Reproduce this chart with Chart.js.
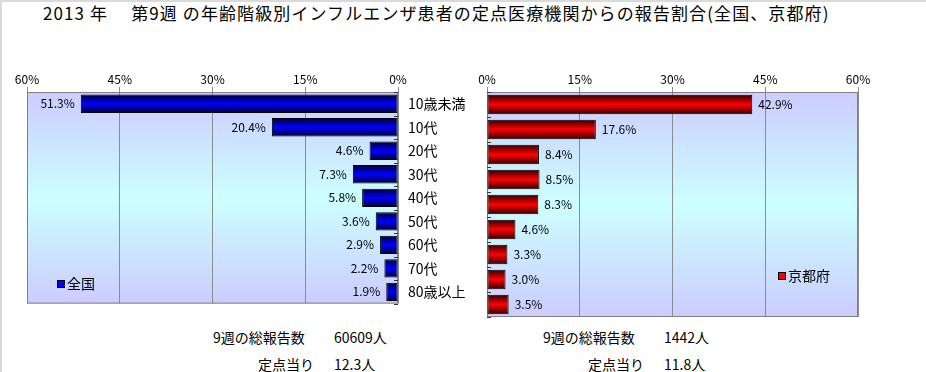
<!DOCTYPE html>
<html lang="ja">
<head>
<meta charset="utf-8">
<title>年齢階級別インフルエンザ患者の報告割合</title>
<script src="https://cdn.jsdelivr.net/npm/chart.js@4.4.0/dist/chart.umd.min.js"></script>
<style>
  html, body { margin: 0; padding: 0; background: #fff; }
  #wrap {
    position: relative; width: 926px; height: 372px; overflow: hidden;
    box-shadow: inset 2px 2px 0 #dadada;
    font-family: "Noto Sans CJK JP", sans-serif; color: #000;
  }
  #wrap canvas { position: absolute; }
  .txt { position: absolute; white-space: pre; line-height: 20px; }
  #title { left: 43px; top: 3px; font-size: 17px; letter-spacing: 1.1px; }
  .legend { font-size: 14px; }
  .key { display: inline-block; width: 6px; height: 6px; border: 1px solid #000; margin-right: 2px; vertical-align: 1px; }
  .stat { font-size: 14px; }
</style>
</head>
<body>
<div id="wrap">
  <div id="title" class="txt"></div>
  <canvas id="leftChart" width="480" height="262" style="left:0; top:60px"></canvas>
  <canvas id="rightChart" width="448" height="262" style="left:478px; top:60px"></canvas>
</div>
<script>
const year = 2013;
const week = 9;
const ageLabels = ['10歳未満', '10代', '20代', '30代', '40代', '50代', '60代', '70代', '80歳以上'];
const seriesNames = ['全国', '京都府'];
const nationalPct = [51.3, 20.4, 4.6, 7.3, 5.8, 3.6, 2.9, 2.2, 1.9];
const kyotoPct = [42.9, 17.6, 8.4, 8.5, 8.3, 4.6, 3.3, 3.0, 3.5];
const xTickValues = [0, 15, 30, 45, 60];
const totalReports = [60609, 1442];
const perSite = [12.3, 11.8];

const FONT = '"Noto Sans CJK JP", sans-serif';
const BAR_PCT = 0.78;
const wrap = document.getElementById('wrap');

document.getElementById('title').textContent =
  `${year} 年\u3000 第${week}週 の年齢階級別インフルエンザ患者の定点医療機関からの報告割合(${seriesNames[0]}、${seriesNames[1]})`;

// 棒のグラデーション（上下が暗く中央が明るい）
function barFill(dark, bright) {
  return (c) => {
    const y = c.chart.scales.y;
    if (!y || c.type !== 'data') return bright;
    const mid = y.getPixelForValue(c.dataIndex);
    const half = y.height / ageLabels.length * BAR_PCT / 2;
    if (!isFinite(mid) || !isFinite(half) || half <= 0) return bright;
    const g = c.chart.ctx.createLinearGradient(0, mid - half, 0, mid + half);
    g.addColorStop(0, dark);
    g.addColorStop(0.5, bright);
    g.addColorStop(1, dark);
    return g;
  };
}

const plotBackground = {
  id: 'plotBackground',
  beforeDraw(chart) {
    const { ctx, chartArea: a } = chart;
    const g = ctx.createLinearGradient(0, a.top, 0, a.bottom);
    g.addColorStop(0, '#ccccff');
    g.addColorStop(0.5, '#ccffff');
    g.addColorStop(1, '#ccccff');
    ctx.save();
    ctx.fillStyle = g;
    ctx.fillRect(a.left, a.top, a.right - a.left, a.bottom - a.top);
    ctx.restore();
  }
};

const plotFrame = {
  id: 'plotFrame',
  beforeDatasetsDraw(chart) {
    const { ctx, chartArea: a } = chart;
    const rev = chart.options.scales.x.reverse;
    const y = chart.scales.y;
    ctx.save();
    ctx.strokeStyle = '#808080';
    ctx.lineWidth = 1;
    ctx.strokeRect(a.left + 0.5, a.top + 0.5, a.right - a.left - 1, a.bottom - a.top - 1);
    // 0% 軸の目盛り
    ctx.strokeStyle = '#333';
    ctx.beginPath();
    for (let i = 0; i <= ageLabels.length; i++) {
      const py = Math.round(y.getPixelForValue(i - 0.5)) + 0.5;
      const x0 = rev ? a.right - 4 : a.left;
      ctx.moveTo(x0, py);
      ctx.lineTo(x0 + 4, py);
    }
    ctx.stroke();
    ctx.restore();
  }
};

const valueLabels = {
  id: 'valueLabels',
  afterDatasetsDraw(chart) {
    const ctx = chart.ctx;
    const rev = chart.options.scales.x.reverse;
    const data = chart.data.datasets[0].data;
    ctx.save();
    ctx.font = '12px ' + FONT;
    ctx.fillStyle = '#000';
    ctx.textBaseline = 'middle';
    ctx.textAlign = rev ? 'right' : 'left';
    chart.getDatasetMeta(0).data.forEach((bar, i) => {
      ctx.fillText(data[i].toFixed(1) + '%', rev ? bar.x - 6 : bar.x + 6, bar.y);
    });
    ctx.restore();
  }
};

function makeChart(id, name, values, dark, bright, rev) {
  return new Chart(document.getElementById(id), {
    type: 'bar',
    data: {
      labels: ageLabels,
      datasets: [{
        label: name,
        data: values,
        backgroundColor: barFill(dark, bright),
        borderColor: '#000',
        borderWidth: 1,
        borderSkipped: false,
        barPercentage: BAR_PCT,
        categoryPercentage: 1
      }]
    },
    options: {
      indexAxis: 'y',
      responsive: false,
      animation: false,
      layout: { padding: rev ? { left: 27, right: 0, top: 0, bottom: 5 } : { left: 9, right: 68, top: 0, bottom: 5 } },
      plugins: { legend: { display: false }, tooltip: { enabled: false } },
      scales: {
        x: {
          position: 'top',
          reverse: rev,
          min: 0,
          max: 60,
          afterBuildTicks: s => { s.ticks = xTickValues.map(v => ({ value: v })); },
          afterFit: s => { s.height = 32; },
          grid: { color: '#8c8c8c', tickLength: 5 },
          border: { display: false },
          ticks: { padding: 0, color: '#000', font: { size: 12, family: FONT }, callback: v => v + '%' }
        },
        y: {
          position: 'right',
          display: rev,
          afterFit: s => { s.width = rev ? 82 : 0; },
          grid: { drawOnChartArea: false, drawTicks: false },
          border: { display: false },
          ticks: { padding: 10, color: '#000', font: { size: 14, family: FONT } }
        }
      }
    },
    plugins: [plotBackground, plotFrame, valueLabels]
  });
}

makeChart('leftChart', seriesNames[0], nationalPct, '#000030', '#0000ff', true);
makeChart('rightChart', seriesNames[1], kyotoPct, '#300000', '#ff0000', false);

// 凡例
function addLegend(name, color, left, top) {
  const d = document.createElement('div');
  d.className = 'txt legend';
  d.style.left = left + 'px';
  d.style.top = top + 'px';
  d.innerHTML = `<span class="key" style="background:${color}"></span>${name}`;
  wrap.appendChild(d);
}
addLegend(seriesNames[0], '#0000ff', 57, 273);
addLegend(seriesNames[1], '#ff0000', 778, 265);

// 総報告数・定点当り
function addText(str, left, top, alignRight) {
  const d = document.createElement('div');
  d.className = 'txt stat';
  d.style.top = top + 'px';
  if (alignRight) d.style.right = (926 - left) + 'px'; else d.style.left = left + 'px';
  d.textContent = str;
  wrap.appendChild(d);
}
[[213, 334], [543, 664]].forEach(([x0, xNum], k) => {
  addText(`${week}週の総報告数`, x0, 327, false);
  addText(`${totalReports[k]}人`, xNum, 327, false);
  addText('定点当り', xNum - 20, 354, true);
  addText(`${perSite[k]}人`, xNum, 354, false);
});
</script>
</body>
</html>
